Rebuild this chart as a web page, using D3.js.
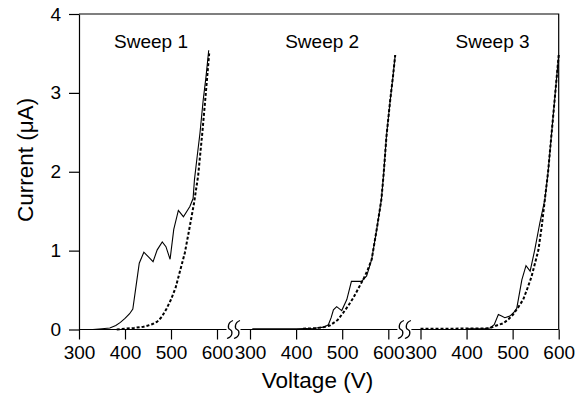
<!DOCTYPE html>
<html lang="en">
<head>
  <meta charset="UTF-8" />
  <title>Current vs voltage sweeps</title>
  <script src="https://d3js.org/d3.v7.min.js"></script>
  <style>
    body {
      margin: 0;
      padding: 0;
      background: #fff;
    }
    svg text {
      font-family: "Liberation Sans", Arial, sans-serif;
      fill: #000;
    }
  </style>
</head>
<body>
  <div id="chart"></div>

  <script>
    // data: [voltage (V), current (uA)]
    const sweepNames = ["Sweep 1", "Sweep 2", "Sweep 3"];
    const xTicks = [300, 400, 500, 600];
    const yTicks = [0, 1, 2, 3, 4];

    const measured1 = [
      [330, 0], [350, 0.01], [367, 0.02], [380, 0.05], [390, 0.09], [400, 0.14],
      [410, 0.2], [417, 0.26], [424, 0.55], [431, 0.84], [441, 0.98], [451, 0.92],
      [461, 0.86], [470, 1.01], [481, 1.11], [489, 1.05], [498, 0.89], [506, 1.27],
      [516, 1.51], [527, 1.43], [541, 1.56], [548, 1.66], [551, 1.9], [557, 2.2],
      [563, 2.49], [570, 2.91], [576, 3.2], [582, 3.54]
    ];
    const model1 = [
      [382, 0], [400, 0.01], [420, 0.02], [440, 0.035], [450, 0.05], [460, 0.07],
      [470, 0.1], [480, 0.16], [490, 0.26], [500, 0.38], [510, 0.53], [520, 0.75],
      [530, 0.97], [540, 1.28], [550, 1.6], [559, 1.95], [568, 2.49], [575, 2.95],
      [583, 3.5]
    ];

    const measured2 = [
      [305, 0.01], [400, 0.01], [440, 0.015], [460, 0.03], [470, 0.06], [476, 0.15],
      [481, 0.25], [488, 0.29], [499, 0.24], [510, 0.38], [520, 0.61], [542, 0.61],
      [553, 0.68], [564, 0.89], [576, 1.31], [585, 1.65], [590, 1.98], [596, 2.45],
      [604, 2.9], [610, 3.2], [615, 3.48]
    ];
    const model2 = [
      [415, 0.01], [440, 0.015], [460, 0.03], [473, 0.05], [490, 0.12], [502, 0.21],
      [513, 0.3], [524, 0.4], [535, 0.52], [547, 0.65], [555, 0.75], [564, 0.89],
      [576, 1.31], [585, 1.65], [590, 1.98], [596, 2.45], [604, 2.9], [610, 3.2],
      [615, 3.48]
    ];

    const measured3 = [
      [400, 0.01], [440, 0.012], [451, 0.02], [460, 0.06], [469, 0.19], [476, 0.17],
      [483, 0.15], [494, 0.17], [503, 0.22], [509, 0.27], [520, 0.63], [529, 0.81],
      [538, 0.74], [548, 1.01], [559, 1.35], [570, 1.65], [577, 2.0], [584, 2.45],
      [591, 2.9], [600, 3.48]
    ];
    const model3 = [
      [300, 0.01], [440, 0.012], [451, 0.02], [465, 0.05], [480, 0.08], [491, 0.13],
      [501, 0.19], [512, 0.28], [523, 0.38], [532, 0.52], [541, 0.67], [549, 0.85],
      [556, 1.01], [563, 1.3], [570, 1.65], [577, 2.0], [584, 2.45], [591, 2.9],
      [600, 3.48]
    ];

    const measured = [measured1, measured2, measured3];
    const model = [model1, model2, model3];

    const width = 584;
    const height = 396;
    const panelRanges = [[79, 217], [250, 388.3], [420.5, 558.7]];
    const yBottom = 329.5;
    const yTop = 14;
    const right = panelRanges[2][1];

    const svg = d3
      .select("#chart")
      .append("svg")
      .attr("width", width)
      .attr("height", height);

    const y = d3.scaleLinear().domain([0, 4]).range([yBottom, yTop]);
    const xs = panelRanges.map((r) => d3.scaleLinear().domain([300, 600]).range(r));

    // y axis
    const yAxis = svg
      .append("g")
      .attr("transform", `translate(${panelRanges[0][0]},0)`)
      .call(
        d3.axisLeft(y)
          .tickValues(yTicks)
          .tickFormat(d3.format("d"))
          .tickSize(10)
          .tickSizeOuter(0)
          .tickPadding(8)
      );
    yAxis.selectAll("text").style("font-size", "19px");
    yAxis.selectAll("line, path").attr("stroke", "#000").attr("stroke-width", 1.2);

    // top and right frame
    svg
      .append("path")
      .attr("d", `M${panelRanges[0][0]},${yTop}H${right}V${yBottom}`)
      .attr("fill", "none")
      .attr("stroke", "#000")
      .attr("stroke-width", 1.2);

    // x axes, one per sweep
    xs.forEach((x) => {
      const g = svg
        .append("g")
        .attr("transform", `translate(0,${yBottom})`)
        .call(d3.axisBottom(x).tickValues(xTicks).tickSize(10).tickSizeOuter(0).tickPadding(6));
      g.select(".domain").remove();
      g.selectAll("line").attr("stroke", "#000").attr("stroke-width", 1.2);
      g.selectAll("text").style("font-size", "19px");
    });

    // baseline with breaks between the panels
    const breaks = [
      (panelRanges[0][1] + panelRanges[1][0]) / 2,
      (panelRanges[1][1] + panelRanges[2][0]) / 2
    ];
    const segs = [
      [panelRanges[0][0], breaks[0] - 7],
      [breaks[0] + 7, breaks[1] - 7],
      [breaks[1] + 7, right]
    ];
    svg
      .selectAll(".baseline")
      .data(segs)
      .enter()
      .append("line")
      .attr("class", "baseline")
      .attr("x1", (d) => d[0])
      .attr("x2", (d) => d[1])
      .attr("y1", yBottom)
      .attr("y2", yBottom)
      .attr("stroke", "#000")
      .attr("stroke-width", 1.2);

    // S shaped break marks
    breaks.forEach((bx) => {
      [-3.5, 3.5].forEach((dx) => {
        const cx = bx + dx;
        svg
          .append("path")
          .attr(
            "d",
            `M${cx - 3},${yBottom + 9}` +
              ` C${cx + 3.5},${yBottom + 7} ${cx + 2.5},${yBottom + 1} ${cx},${yBottom}` +
              ` S${cx - 2.5},${yBottom - 7} ${cx + 3},${yBottom - 9}`
          )
          .attr("fill", "none")
          .attr("stroke", "#000")
          .attr("stroke-width", 1.3);
      });
    });

    // curves
    xs.forEach((x, i) => {
      const line = d3
        .line()
        .x((d) => x(d[0]))
        .y((d) => y(d[1]));

      svg
        .append("path")
        .datum(model[i])
        .attr("d", line)
        .attr("fill", "none")
        .attr("stroke", "#000")
        .attr("stroke-width", 2)
        .attr("stroke-dasharray", "3,2");

      svg
        .append("path")
        .datum(measured[i])
        .attr("d", line)
        .attr("fill", "none")
        .attr("stroke", "#000")
        .attr("stroke-width", 1.1);

      svg
        .append("text")
        .attr("x", (panelRanges[i][0] + panelRanges[i][1]) / 2 + 3)
        .attr("y", 48)
        .attr("text-anchor", "middle")
        .style("font-size", "19px")
        .text(sweepNames[i]);
    });

    // axis titles
    svg
      .append("text")
      .attr("x", 317.5)
      .attr("y", 388)
      .attr("text-anchor", "middle")
      .style("font-size", "22.5px")
      .text("Voltage (V)");

    svg
      .append("text")
      .attr("transform", "translate(33,160) rotate(-90)")
      .attr("text-anchor", "middle")
      .style("font-size", "22.5px")
      .text("Current (μA)");
  </script>
</body>
</html>
